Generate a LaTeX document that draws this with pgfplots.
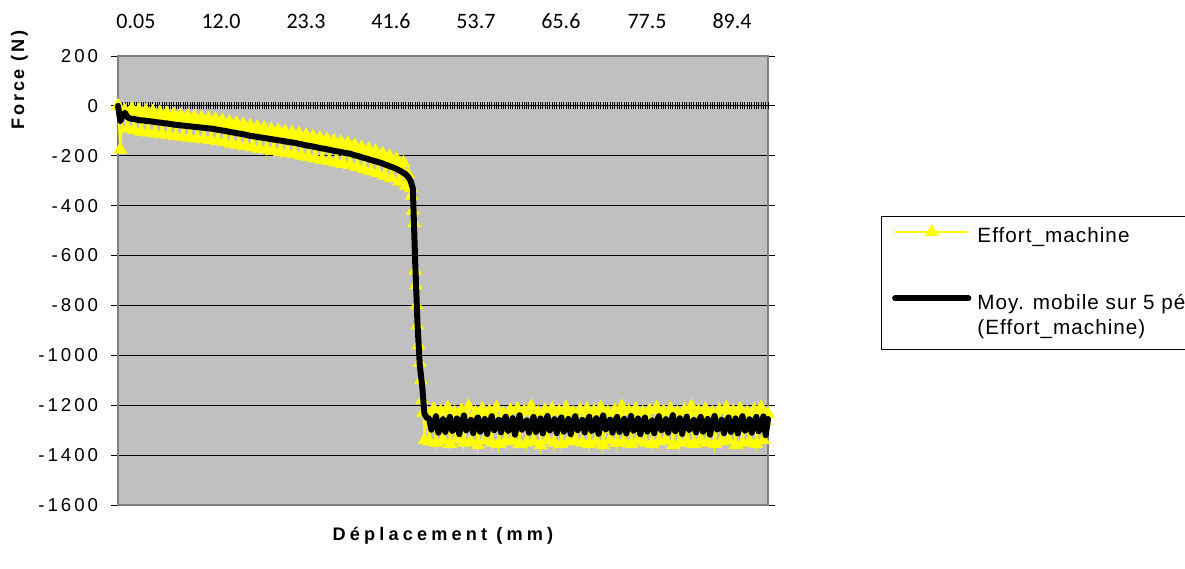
\documentclass[border=0pt]{standalone}
\usepackage{fontspec}
\setmainfont{Liberation Sans}
\newfontfamily\tickfont[LetterSpace=16]{Liberation Sans}
\newfontfamily\ylabfont[LetterSpace=15]{Liberation Sans}
\newfontfamily\xlabfont[LetterSpace=23]{Liberation Sans}
\newfontfamily\legfont[LetterSpace=5]{Liberation Sans}
\newfontfamily\calfont{Carlito}
\usepackage{pgfplots}
\pgfplotsset{compat=1.18}
\definecolor{plotbg}{RGB}{192,192,192}
\definecolor{bordergray}{RGB}{128,128,128}
\definecolor{exyellow}{RGB}{255,255,0}

\begin{document}
\begin{tikzpicture}
\path[use as bounding box] (0,0) rectangle (888.75pt,426pt);
\clip (0,0) rectangle (888.75pt,426pt);
\begin{axis}[
  at={(88.5pt,47.25pt)}, anchor=south west,
  width=487.5pt, height=336.75pt, scale only axis,
  xmin=0, xmax=280, ymin=-1600, ymax=200,
  axis background/.style={fill=plotbg},
  axis line style={draw=bordergray, line width=1.5pt},
  ytick={-1600,-1400,-1200,-1000,-800,-600,-400,-200,0,200},
  yticklabels={-1600,-1400,-1200,-1000,-800,-600,-400,-200,0,200},
  ymajorgrids, major grid style={black, line width=0.75pt},
  xtick={7.75,44.4,81.0,117.6,154.2,190.8,227.9,264.5},
  xticklabels={0.05,12.0,23.3,41.6,53.7,65.6,77.5,89.4},
  xticklabel pos=upper,
  tick align=outside, major tick length=5.25pt,
  x tick style={draw=none},
  y tick style={black, line width=0.75pt},
  yticklabel style={font=\fontsize{14pt}{16pt}\tickfont, inner sep=0pt, anchor=east, xshift=-9.5pt},
  xticklabel style={font=\fontsize{16.5pt}{19pt}\calfont, inner sep=0pt, anchor=south, yshift=15pt},
  xlabel={Déplacement (mm)}, ylabel={Force (N)},
  xlabel style={at={(axis description cs:0.5,-0.069)}, anchor=center, font=\fontsize{13.6pt}{16pt}\xlabfont\bfseries},
  ylabel style={at={(axis description cs:-0.1515,0.9465)}, anchor=center, font=\fontsize{13.6pt}{16pt}\ylabfont\bfseries},
]
\end{axis}
\begin{axis}[
  at={(88.5pt,47.25pt)}, anchor=south west,
  width=487.5pt, height=336.75pt, scale only axis,
  xmin=0, xmax=280, ymin=-1600, ymax=200,
  axis x line*=middle, axis y line=none,
  xtick={0,...,280}, xticklabels={},
  tick align=center, major tick length=5.25pt,
  x tick style={black, line width=0.6pt},
  x axis line style={black, line width=0.75pt},
  ytick=\empty,
  clip=false, clip marker paths=true,
  legend cell align=left,
  legend style={at={(1.1738,0.6437)}, anchor=north west, draw=black, line width=0.75pt, fill=white,
    inner xsep=8pt, inner ysep=2pt, row sep=0pt, column sep=4.5pt,
    font=\fontsize{15.5pt}{18pt}\legfont, nodes={inner sep=0pt}},
  legend image code/.code={\draw[mark repeat=2,mark phase=2,#1] plot coordinates {(0pt,0pt) (27.5pt,0pt) (55pt,0pt)};},
]
\addplot[exyellow, line width=1.5pt, mark=triangle*, mark size=5.5pt,
  mark options={fill=exyellow, draw=exyellow, line width=0.5pt}] table {
x y
0 0
1 -175
2 -30
3 -20
4 -90
5 -40
6 -12
7 -97
8 -45
9 -17
10 -103
11 -48
12 -20
13 -106
14 -52
15 -23
16 -110
17 -56
18 -27
19 -113
20 -60
21 -30
22 -117
23 -63
24 -35
25 -121
26 -67
27 -38
28 -124
29 -70
30 -41
31 -127
32 -73
33 -44
34 -130
35 -76
36 -47
37 -133
38 -79
39 -50
40 -136
41 -82
42 -54
43 -141
44 -87
45 -59
46 -145
47 -92
48 -64
49 -151
50 -97
51 -69
52 -156
53 -102
54 -74
55 -161
56 -108
57 -80
58 -166
59 -113
60 -84
61 -171
62 -117
63 -89
64 -175
65 -122
66 -93
67 -180
68 -126
69 -98
70 -184
71 -131
72 -102
73 -189
74 -135
75 -107
76 -193
77 -140
78 -112
79 -199
80 -146
81 -118
82 -205
83 -151
84 -123
85 -210
86 -157
87 -129
88 -216
89 -162
90 -134
91 -221
92 -168
93 -140
94 -227
95 -173
96 -145
97 -232
98 -179
99 -150
100 -237
101 -185
102 -158
103 -245
104 -193
105 -166
106 -254
107 -201
108 -174
109 -262
110 -210
111 -182
112 -270
113 -218
114 -191
115 -280
116 -228
117 -202
118 -290
119 -239
120 -213
121 -303
122 -253
123 -228
124 -320
125 -275
126 -330
126.5 -360
127 -420
127.5 -470
128 -660
128.3 -720
128.6 -800
129 -880
129.5 -960
130 -1030
130.5 -1100
131 -1180
131.5 -1230
132 -1340
133 -1230
134 -1345
135 -1250
136 -1215
137 -1350
138 -1290
139 -1225
140 -1340
141 -1270
142 -1210
143 -1355
144 -1300
145 -1230
146 -1335
147 -1260
148 -1220
149 -1350
150 -1285
151 -1205
152 -1345
153 -1275
154 -1230
155 -1360
156 -1295
157 -1215
158 -1340
159 -1265
160 -1225
161 -1350
162 -1280
163 -1210
164 -1355
165 -1290
166 -1235
167 -1345
168 -1270
169 -1220
170 -1340
171 -1300
172 -1215
173 -1355
174 -1260
175 -1225
176 -1350
177 -1285
178 -1205
179 -1345
180 -1275
181 -1230
182 -1360
183 -1290
184 -1220
185 -1340
186 -1265
187 -1215
188 -1350
189 -1280
190 -1225
191 -1355
192 -1295
193 -1210
194 -1345
195 -1270
196 -1230
197 -1340
198 -1285
199 -1220
200 -1350
201 -1260
202 -1215
203 -1355
204 -1290
205 -1225
206 -1345
207 -1275
208 -1210
209 -1360
210 -1295
211 -1230
212 -1340
213 -1265
214 -1220
215 -1350
216 -1280
217 -1205
218 -1345
219 -1290
220 -1225
221 -1355
222 -1270
223 -1215
224 -1340
225 -1285
226 -1230
227 -1350
228 -1260
229 -1220
230 -1355
231 -1295
232 -1210
233 -1345
234 -1275
235 -1225
236 -1340
237 -1290
238 -1215
239 -1360
240 -1265
241 -1230
242 -1350
243 -1280
244 -1220
245 -1345
246 -1295
247 -1205
248 -1355
249 -1270
250 -1225
251 -1340
252 -1285
253 -1215
254 -1350
255 -1260
256 -1230
257 -1355
258 -1290
259 -1220
260 -1345
261 -1275
262 -1210
263 -1340
264 -1295
265 -1225
266 -1360
267 -1265
268 -1215
269 -1350
270 -1285
271 -1230
272 -1345
273 -1270
274 -1220
275 -1355
276 -1290
277 -1210
278 -1340
279 -1265
280 -1235
};
\addlegendentry{\raisebox{0pt}[17.5pt][7.25pt]{Effort\_machine}}
\addlegendimage{empty legend}
\addlegendentry{\rule{0pt}{29.5pt}}
\addplot[black, line width=4.5pt, line join=round, line cap=round] table[x expr=\coordindex, y=ma] {
ma
0
-60
-40
-28
-45
-50
-52
-52
-55
-57
-58
-58
-60
-61
-62
-63
-65
-66
-67
-68
-70
-70
-72
-73
-75
-76
-77
-78
-79
-80
-81
-82
-83
-84
-85
-86
-87
-88
-89
-90
-91
-92
-94
-96
-97
-99
-100
-102
-104
-106
-107
-109
-111
-112
-114
-116
-118
-120
-121
-123
-124
-126
-127
-129
-130
-132
-133
-135
-136
-138
-139
-141
-142
-144
-145
-147
-148
-150
-152
-154
-156
-158
-160
-161
-163
-165
-167
-169
-171
-172
-174
-176
-178
-180
-182
-183
-185
-187
-189
-190
-192
-195
-198
-200
-203
-206
-209
-211
-214
-217
-220
-222
-225
-228
-231
-235
-238
-242
-245
-249
-253
-258
-263
-268
-275
-285
-300
-330
-620
-870
-1040
-1120
-1235
-1250
-1253
-1298
-1277
-1244
-1310
-1285
-1256
-1307
-1268
-1247
-1304
-1289
-1253
-1316
-1274
-1241
-1301
-1282
-1259
-1312
-1265
-1249
-1306
-1286
-1255
-1315
-1273
-1244
-1300
-1283
-1258
-1309
-1267
-1246
-1304
-1291
-1252
-1318
-1276
-1240
-1298
-1280
-1261
-1310
-1270
-1247
-1307
-1288
-1253
-1313
-1274
-1243
-1301
-1285
-1256
-1312
-1265
-1249
-1306
-1289
-1255
-1316
-1271
-1244
-1300
-1282
-1259
-1309
-1268
-1246
-1304
-1292
-1252
-1315
-1277
-1241
-1298
-1286
-1258
-1310
-1267
-1247
-1307
-1283
-1255
-1313
-1273
-1243
-1303
-1289
-1253
-1316
-1270
-1249
-1306
-1280
-1261
-1312
-1265
-1244
-1301
-1291
-1256
-1310
-1276
-1240
-1304
-1285
-1252
-1315
-1271
-1246
-1300
-1288
-1259
-1309
-1268
-1247
-1306
-1282
-1255
-1318
-1274
-1243
-1298
-1292
-1258
-1312
-1267
-1249
-1307
-1286
-1253
-1313
-1273
-1244
-1303
-1289
-1256
-1310
-1270
-1247
-1304
-1283
-1245
-1320
-1255
};
\addlegendentry{\raisebox{0pt}[17.5pt][7.25pt]{Moy. mobile sur 5 pér.}}
\addlegendimage{empty legend}
\addlegendentry{\raisebox{0pt}[17.5pt][7.25pt]{(Effort\_machine)}}
\addlegendimage{empty legend}
\addlegendentry{\rule{0pt}{6pt}}
\end{axis}
\end{tikzpicture}
\end{document}
